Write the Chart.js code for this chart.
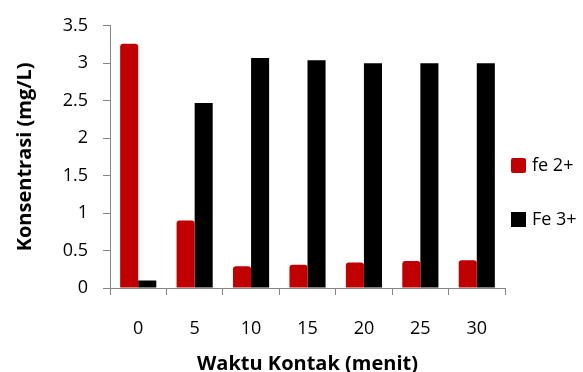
<!DOCTYPE html>
<html>
<head>
<meta charset="utf-8">
<script src="https://cdn.jsdelivr.net/npm/chart.js@4/dist/chart.umd.min.js"></script>
<style>
  html, body { margin: 0; padding: 0; background: #fff; }
  canvas { display: block; }
</style>
</head>
<body>
<canvas id="chart" width="583" height="372"></canvas>
<script>
// Contact time (minutes) and measured iron concentrations (mg/L)
const categories = ['0', '5', '10', '15', '20', '25', '30'];
const fe2Values = [3.26, 0.90, 0.29, 0.31, 0.34, 0.36, 0.37];
const fe3Values = [0.10, 2.47, 3.07, 3.04, 3.00, 3.00, 3.00];
const seriesNames = ['fe 2+', 'Fe 3+'];
const yTickValues = [0, 0.5, 1, 1.5, 2, 2.5, 3, 3.5];
const xTitle = 'Waktu Kontak (menit)';
const yTitle = 'Konsentrasi (mg/L)';

const FONT = '"Open Sans", "Liberation Sans", sans-serif';
const AXIS_GREY = '#868686';

// Legend drawn at the right of the plot, one entry per dataset
const sideLegend = {
  id: 'sideLegend',
  afterDraw(chart) {
    const ctx = chart.ctx;
    const x = chart.chartArea.right + 6;
    const rows = [166, 220];
    ctx.save();
    ctx.font = '18px ' + FONT;
    ctx.textBaseline = 'middle';
    ctx.textAlign = 'left';
    chart.data.datasets.forEach((ds, i) => {
      const cy = rows[i];
      ctx.fillStyle = ds.backgroundColor;
      ctx.beginPath();
      if (ctx.roundRect) ctx.roundRect(x, cy - 8, 15, 15, i === 0 ? 2 : 0);
      else ctx.rect(x, cy - 8, 15, 15);
      ctx.fill();
      ctx.fillStyle = '#000';
      ctx.fillText(ds.label, x + 21, cy);
    });
    ctx.restore();
  }
};

new Chart(document.getElementById('chart'), {
  type: 'bar',
  data: {
    labels: categories,
    datasets: [
      {
        label: seriesNames[0],
        data: fe2Values,
        backgroundColor: '#C00000',
        borderRadius: { topLeft: 3, topRight: 3, bottomLeft: 0, bottomRight: 0 },
        borderSkipped: 'bottom'
      },
      {
        label: seriesNames[1],
        data: fe3Values,
        backgroundColor: '#000000'
      }
    ]
  },
  options: {
    responsive: false,
    animation: false,
    devicePixelRatio: 1,
    layout: { padding: { top: 20, right: 78, bottom: 0, left: 0 } },
    datasets: { bar: { categoryPercentage: 0.64, barPercentage: 1.0 } },
    plugins: {
      legend: { display: false },
      tooltip: { enabled: false }
    },
    scales: {
      x: {
        grid: {
          offset: true,
          drawOnChartArea: false,
          drawTicks: true,
          tickLength: 7,
          tickColor: AXIS_GREY,
          color: AXIS_GREY
        },
        border: { display: true, color: AXIS_GREY, width: 1 },
        ticks: {
          color: '#000',
          font: { family: FONT, size: 18 },
          padding: 23,
          maxRotation: 0
        },
        title: {
          display: true,
          text: xTitle,
          color: '#000',
          font: { family: FONT, size: 20, weight: 'bold', lineHeight: 1.0 },
          padding: { top: 0, bottom: -2 }
        },
        afterFit(scale) { scale.height = 84; }
      },
      y: {
        min: 0,
        max: 3.5,
        afterBuildTicks(scale) { scale.ticks = yTickValues.map(v => ({ value: v })); },
        grid: {
          drawOnChartArea: false,
          drawTicks: true,
          tickLength: 7,
          tickColor: AXIS_GREY,
          color: AXIS_GREY
        },
        border: { display: true, color: AXIS_GREY, width: 1 },
        ticks: {
          color: '#000',
          font: { family: FONT, size: 18 },
          padding: 15,
          callback: (v) => String(v)
        },
        title: {
          display: true,
          text: yTitle,
          color: '#000',
          font: { family: FONT, size: 20, weight: 'bold', lineHeight: 1.0 },
          padding: { top: 15, bottom: 0 }
        },
        afterFit(scale) { scale.width = 110; }
      }
    }
  },
  plugins: [sideLegend]
});
</script>
</body>
</html>
